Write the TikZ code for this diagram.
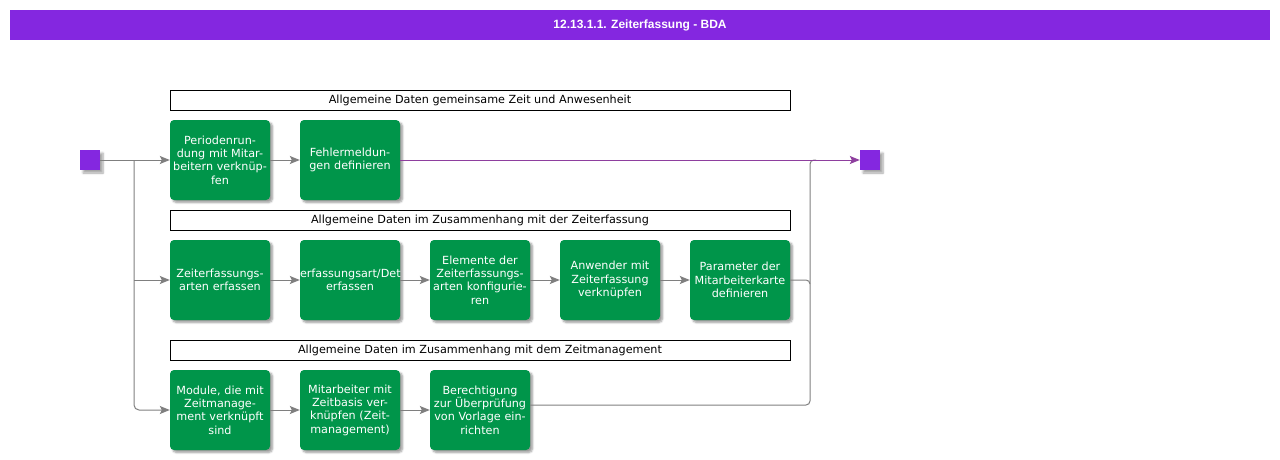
\documentclass[tikz,border=0pt]{standalone}
\usepackage{fontspec}
\setmainfont{DejaVu Sans}
\newfontfamily\titlefont{Liberation Sans}
\usetikzlibrary{shadows,shadows.blur,arrows.meta}
\definecolor{titlepurple}{HTML}{8427E0}
\definecolor{taskgreen}{HTML}{00954A}
\definecolor{lineg}{HTML}{7F7F7F}
\definecolor{linep}{HTML}{8E3F9E}
\tikzset{
  task/.style={draw=none, fill=taskgreen, rounded corners=4pt, minimum width=100pt, minimum height=80pt,
    text width=100pt, align=center, inner sep=0pt, text=white, font=\fontsize{11.2}{13.3}\selectfont,
    blur shadow={shadow xshift=2.5pt, shadow yshift=-2.5pt, shadow blur radius=2pt, shadow blur steps=6, shadow opacity=40}},
  ev/.style={draw=none, fill=titlepurple, minimum width=20pt, minimum height=20pt, inner sep=0pt,
    blur shadow={shadow xshift=3pt, shadow yshift=-3pt, shadow blur radius=2pt, shadow blur steps=6, shadow opacity=35}},
  grp/.style={draw=black, line width=0.9pt, fill=white, minimum width=620pt, minimum height=20pt, inner sep=0pt,
    font=\fontsize{11.2}{13}\selectfont},
  garrow/.style={draw=lineg, line width=1pt, -{Stealth[length=10pt,width=8pt,inset=2pt]}},
  gline/.style={draw=lineg, line width=1pt},
  parrow/.style={draw=linep, line width=1pt, -{Stealth[length=10pt,width=8pt,inset=2pt]}},
}
\begin{document}
\begin{tikzpicture}[x=1pt,y=-1pt]
\useasboundingbox (0,0) rectangle (1280,460);
% title
\node[fill=titlepurple, minimum width=1260pt, minimum height=30pt, inner sep=0pt, text=white,
  font=\titlefont\bfseries\fontsize{12}{14}\selectfont] (title) at (640,25) {12.13.1.1. Zeiterfassung - BDA};
% groups
\node[grp] (g1) at (480,100) {Allgemeine Daten gemeinsame Zeit und Anwesenheit};
\node[grp] (g2) at (480,220) {Allgemeine Daten im Zusammenhang mit der Zeiterfassung};
\node[grp] (g3) at (480,350) {Allgemeine Daten im Zusammenhang mit dem Zeitmanagement};
% events
\node[ev] (start) at (90,160) {};
\node[ev] (end) at (870,160) {};
% row 1
\node[task] (p1) at (220,160) {Periodenrun-\\dung mit Mitar-\\beitern verknüp-\\fen};
\node[task] (p2) at (350,160) {Fehlermeldun-\\gen definieren};
% row 2
\node[task] (z1) at (220,280) {Zeiterfassungs-\\arten erfassen};
\node[task] (z2) at (350,280) {erfassungsart/Det\\erfassen};
\node[task] (z3) at (480,280) {Elemente der\\Zeiterfassungs-\\arten konfigurie-\\ren};
\node[task] (z4) at (610,280) {Anwender mit\\Zeiterfassung\\verknüpfen};
\node[task] (z5) at (740,280) {Parameter der\\Mitarbeiterkarte\\definieren};
% row 3
\node[task] (m1) at (220,410) {Module, die mit\\Zeitmanage-\\ment verknüpft\\sind};
\node[task] (m2) at (350,410) {Mitarbeiter mit\\Zeitbasis ver-\\knüpfen (Zeit-\\management)};
\node[task] (m3) at (480,410) {Berechtigung\\zur Überprüfung\\von Vorlage ein-\\richten};
% coordinates
\coordinate (b1) at (134,160);
\coordinate (b2) at (134,280);
\coordinate (j1) at (810,160);
\coordinate (j2) at (810,280);
\coordinate (m3o) at (530,405);
\coordinate (j3) at (810,405);
% connectors
\draw[garrow] (start.east) -- (p1.west);
\draw[garrow, rounded corners=5pt] (b1) |- (m1.west);
\draw[garrow] (b2) -- (z1.west);
\draw[garrow] (p1.east) -- (p2.west);
\draw[garrow] (z1.east) -- (z2.west);
\draw[garrow] (z2.east) -- (z3.west);
\draw[garrow] (z3.east) -- (z4.west);
\draw[garrow] (z4.east) -- (z5.west);
\draw[garrow] (m1.east) -- (m2.west);
\draw[garrow] (m2.east) -- (m3.west);
\draw[gline, rounded corners=4pt] (z5.east) -- (j2) -- ([yshift=-4pt]j2);
\draw[gline, rounded corners=4pt] (m3o) -- (j3) -- (j1) -- ([xshift=6pt]j1);
\draw[parrow] (p2.east) -- (end.west);
\end{tikzpicture}
\end{document}
